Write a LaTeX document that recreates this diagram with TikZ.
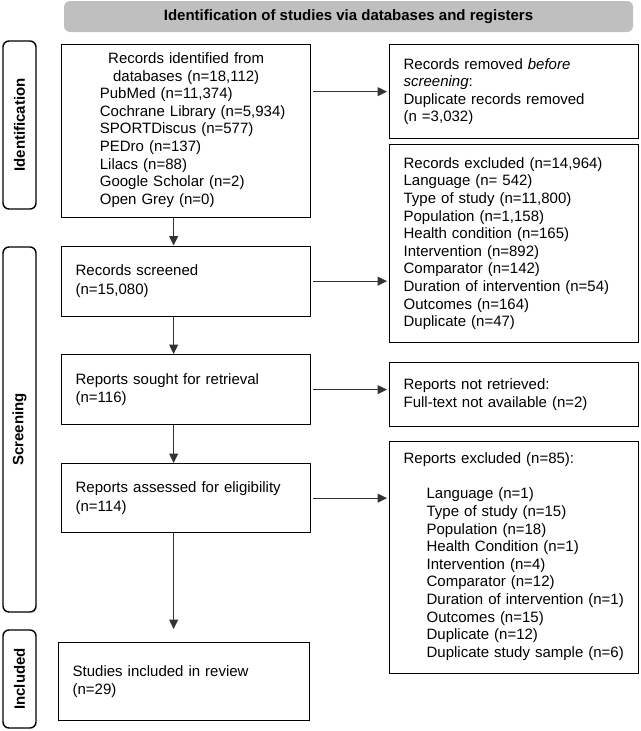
\documentclass[tikz,border=0pt]{standalone}
\usepackage{fontspec}
\setmainfont{Liberation Sans}
\usetikzlibrary{positioning,calc,arrows.meta}
\tikzset{>={Triangle[length=9.5pt,width=9pt]}}
\newcommand*{\fs}{\fontsize{15}{17.6}\selectfont}
\tikzset{
  every node/.style={font=\fs},
  box/.style={draw,line width=1.3pt,align=left,inner xsep=14pt,inner ysep=0pt,anchor=north west},
  side/.style={draw,line width=1.4pt,rounded corners=6pt,rotate=90,minimum height=33pt,font=\fs\bfseries},
  arr/.style={->,draw=black!80,line width=1pt,shorten <=2pt,shorten >=2pt}
}

\begin{document}
\begin{tikzpicture}[x=1pt,y=-1pt]
\useasboundingbox (0,0) rectangle (640,731);
\node[fill=black!25,rounded corners=6pt,minimum width=569pt,minimum height=31pt,font=\fs\bfseries] (head) at (348.5,16.5) {Identification of studies via databases and registers};

\node[side,minimum width=168pt] (phase1) at (19.5,125) {Identification};
\node[side,minimum width=365pt] (phase2) at (19.5,429.5) {Screening};
\node[side,minimum width=98pt] (phase3) at (19.5,679) {Included};

\node[box,align=center,text width=221pt,minimum height=173pt] (found) at (61,44) {Records identified from\\ databases (n=18,112)\\
  \hspace*{13pt}\begin{tabular}[t]{@{}l@{}}PubMed (n=11,374)\\ Cochrane Library (n=5,934)\\ SPORTDiscus (n=577)\\ PEDro (n=137)\\ Lilacs (n=88)\\ Google Scholar (n=2)\\ Open Grey (n=0)\end{tabular}};
\node[box,text width=221pt,minimum height=94pt] (removed) at (389,44) {Records removed \textit{before}\\ \textit{screening}:\\ Duplicate records removed\\ (n =3,032)};
\node[box,text width=221pt,minimum height=198pt] (excl1) at (389,144) {Records excluded (n=14,964)\\ Language (n= 542)\\ Type of study (n=11,800)\\ Population (n=1,158)\\ Health condition (n=165)\\ Intervention (n=892)\\ Comparator (n=142)\\ Duration of intervention (n=54)\\ Outcomes (n=164)\\ Duplicate (n=47)};
\node[box,text width=221pt,minimum height=70pt] (screened) at (61,245.5) {Records screened\\[0.7pt] (n=15,080)};
\node[box,text width=221pt,minimum height=70pt] (sought) at (61,354) {Reports sought for retrieval\\[0.7pt] (n=116)};
\node[box,text width=221pt,minimum height=64pt] (notret) at (389,362) {Reports not retrieved:\\ Full-text not available (n=2)};
\node[box,text width=221pt,minimum height=69pt] (assessed) at (61,463) {Reports assessed for eligibility\\[0.7pt] (n=114)};
\node[box,text width=221pt,minimum height=232pt] (excl2) at (389,441) {Reports excluded (n=85):\\[17.6pt]
  \hspace*{23pt}\begin{tabular}[t]{@{}l@{}}Language (n=1)\\ Type of study (n=15)\\ Population (n=18)\\ Health Condition (n=1)\\ Intervention (n=4)\\ Comparator (n=12)\\ Duration of intervention (n=1)\\ Outcomes (n=15)\\ Duplicate (n=12)\\ Duplicate study sample (n=6)\end{tabular}};
\node[box,text width=223pt,minimum height=78pt] (studies) at (58,642) {Studies included in review\\[0.7pt] (n=29)};

% flow down
\draw[arr,shorten <=0pt,shorten >=0pt] ([xshift=-12.5pt]found.south) -- ([xshift=-12.5pt]screened.north);
\draw[arr,shorten <=0pt,shorten >=0pt] ([xshift=-12.5pt]screened.south) -- ([xshift=-12.5pt]sought.north);
\draw[arr,shorten <=0pt,shorten >=0pt] ([xshift=-12.5pt]sought.south) -- ([xshift=-12.5pt]assessed.north);
\coordinate (t) at ([xshift=-12.5pt]assessed.south);
\draw[arr,shorten <=0pt,shorten >=13pt] (t) -- (t |- studies.north);
% flow right
\draw[arr] (removed.west -| found.east) -- (removed.west);
\draw[arr] (screened.east) -- (screened.east -| excl1.west);
\draw[arr] (sought.east) -- (sought.east -| notret.west);
\draw[arr] (assessed.east) -- (assessed.east -| excl2.west);
\end{tikzpicture}
\end{document}
